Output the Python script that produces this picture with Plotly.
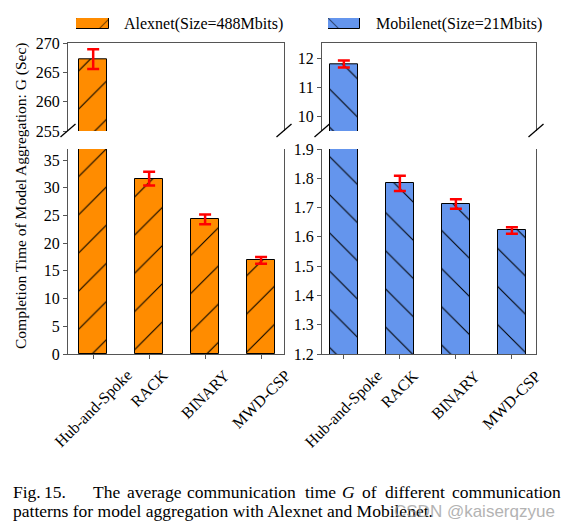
import plotly.graph_objects as go

categories = ["Hub-and-Spoke", "RACK", "BINARY", "MWD-CSP"]
alexnet = [267.3, 31.65, 24.3, 16.9]
alexnet_err = [1.7, 1.25, 0.9, 0.6]
mobilenet = [11.8, 1.783, 1.712, 1.622]
mobilenet_err = [0.12, 0.026, 0.016, 0.011]
legend_names = ["Alexnet(Size=488Mbits)", "Mobilenet(Size=21Mbits)"]
y_title = "Completion Time of Model Aggregation: G (Sec)"

W, H = 573, 531
FONT = "Liberation Serif"
ORANGE = "#FF8C00"
BLUE = "#6495ED"
AXC = "#555555"


def px(x):
    return x / W


def py(y):
    return 1 - y / H


fig = go.Figure()


def add_bars(vals, errs, color, shape, xa, ya):
    fig.add_trace(go.Bar(
        x=categories, y=vals, width=0.5,
        marker=dict(color=color, line=dict(color="black", width=1),
                    pattern=dict(shape=shape, size=27, solidity=0.04,
                                 fgcolor="black", fgopacity=1)),
        error_y=dict(type="data", array=errs, visible=True, color="red",
                     thickness=2.5, width=6),
        xaxis=xa, yaxis=ya, showlegend=False))


add_bars(alexnet, alexnet_err, ORANGE, "/", "x", "y")
add_bars(alexnet, alexnet_err, ORANGE, "/", "x2", "y2")
add_bars(mobilenet, mobilenet_err, BLUE, "\\", "x3", "y3")
add_bars(mobilenet, mobilenet_err, BLUE, "\\", "x4", "y4")

# legend swatches
fig.add_trace(go.Bar(x=[1], y=[legend_names[0]], orientation="h", width=1,
                     marker=dict(color=ORANGE, line=dict(color="black", width=1),
                                 pattern=dict(shape="/", size=24, solidity=0.05, fgcolor="black")),
                     xaxis="x5", yaxis="y5", showlegend=False, hoverinfo="skip"))
fig.add_trace(go.Bar(x=[1], y=[legend_names[1]], orientation="h", width=1,
                     marker=dict(color=BLUE, line=dict(color="black", width=1),
                                 pattern=dict(shape="\\", size=24, solidity=0.05, fgcolor="black")),
                     xaxis="x6", yaxis="y6", showlegend=False, hoverinfo="skip"))

tickfont = dict(family=FONT, size=16, color="black")
LX = [px(68), px(284)]
RX = [px(322), px(536)]
BOT = [py(354), py(149)]
TOP = [py(131), py(43.3)]

common_y = dict(showline=True, linecolor=AXC, linewidth=1.3, mirror=True,
                ticks="outside", ticklen=4, tickcolor=AXC, tickfont=tickfont,
                showgrid=False, zeroline=False, automargin=False)
common_xb = dict(type="category", showline=True, linecolor=AXC, linewidth=1.3,
                 ticks="outside", ticklen=4, tickcolor=AXC, showticklabels=False,
                 showgrid=False, zeroline=False, automargin=False)
common_xt = dict(type="category", showline=True, linecolor=AXC, linewidth=1.3,
                 side="top", ticks="", showticklabels=False, showgrid=False,
                 zeroline=False, automargin=False)
hidden = dict(visible=False, automargin=False, fixedrange=True)

fig.update_layout(
    width=W, height=H, margin=dict(l=0, r=0, t=0, b=0, autoexpand=False),
    paper_bgcolor="white", plot_bgcolor="white", bargap=0,
    xaxis=dict(domain=LX, range=[-0.45, 3.41], anchor="y", **common_xb),
    yaxis=dict(domain=BOT, range=[0, 37], tickvals=[0, 5, 10, 15, 20, 25, 30, 35],
               anchor="x", **common_y),
    xaxis2=dict(domain=LX, range=[-0.45, 3.41], anchor="y2", **common_xt),
    yaxis2=dict(domain=TOP, range=[255, 270], tickvals=[255, 260, 265, 270],
                anchor="x2", **common_y),
    xaxis3=dict(domain=RX, range=[-0.39, 3.43], anchor="y3", **common_xb),
    yaxis3=dict(domain=BOT, range=[1.2, 1.9],
                tickvals=[1.2, 1.3, 1.4, 1.5, 1.6, 1.7, 1.8, 1.9], tickformat=".1f",
                anchor="x3", **common_y),
    xaxis4=dict(domain=RX, range=[-0.39, 3.43], anchor="y4", **common_xt),
    yaxis4=dict(domain=TOP, range=[9.48, 12.52], tickvals=[10, 11, 12],
                anchor="x4", **common_y),
    xaxis5=dict(domain=[px(76), px(109)], range=[0, 1], anchor="y5", **hidden),
    yaxis5=dict(domain=[py(29), py(18)], range=[-0.5, 0.5], anchor="x5",
                type="category", **hidden),
    xaxis6=dict(domain=[px(328), px(360)], range=[0, 1], anchor="y6", **hidden),
    yaxis6=dict(domain=[py(29), py(18)], range=[-0.5, 0.5], anchor="x6",
                type="category", **hidden),
)

# break marks
for cx in [68, 284, 322, 536]:
    fig.add_shape(type="line", xref="paper", yref="paper",
                  x0=px(cx - 7.5), y0=py(137), x1=px(cx + 7.5), y1=py(124),
                  line=dict(color="black", width=1.3))

ann = []
# category labels, rotated 45 degrees and centred under each tick
for xr in ["x", "x3"]:
    for c in categories:
        ann.append(dict(text=c, x=c, xref=xr, y=py(364), yref="paper",
                        xanchor="center", yanchor="top", textangle=-45,
                        font=dict(family=FONT, size=16, color="black")))
ann.append(dict(text=legend_names[0], x=px(122), y=py(24), xanchor="left", yanchor="middle"))
ann.append(dict(text=legend_names[1], x=px(374), y=py(24), xanchor="left", yanchor="middle"))
ann.append(dict(text=y_title, x=px(21), y=py(196), xanchor="center", yanchor="middle",
                textangle=-90, font=dict(family=FONT, size=15.5, color="black")))

caption1 = [("Fig.", 11), ("15.", 42), ("The", 91), ("average", 125), ("communication", 185),
            ("time", 303), ("<i>G</i>", 340), ("of", 360), ("different", 383),
            ("communication", 450)]
for word, x in caption1:
    ann.append(dict(text=word, x=px(x), y=py(492), xanchor="left", yanchor="middle",
                    font=dict(family=FONT, size=17.5, color="black")))
ann.append(dict(text="patterns for model aggregation with Alexnet and Mobilenet.",
                x=px(11), y=py(511), xanchor="left", yanchor="middle",
                font=dict(family=FONT, size=17.5, color="black")))
ann.append(dict(text="CSDN @kaiserqzyue", x=px(557), y=py(511), xanchor="right",
                yanchor="middle", opacity=0.75,
                font=dict(family="Liberation Sans", size=17, color="#9a9a9a")))

for a in ann:
    a.setdefault("font", dict(family=FONT, size=16, color="black"))
    a.setdefault("xref", "paper")
    a.setdefault("yref", "paper")
    a.update(showarrow=False)
fig.update_layout(annotations=ann)

fig.write_html("out.html", config={"displayModeBar": False},
               post_script="document.body.style.margin='0';document.body.style.overflow='hidden';")
